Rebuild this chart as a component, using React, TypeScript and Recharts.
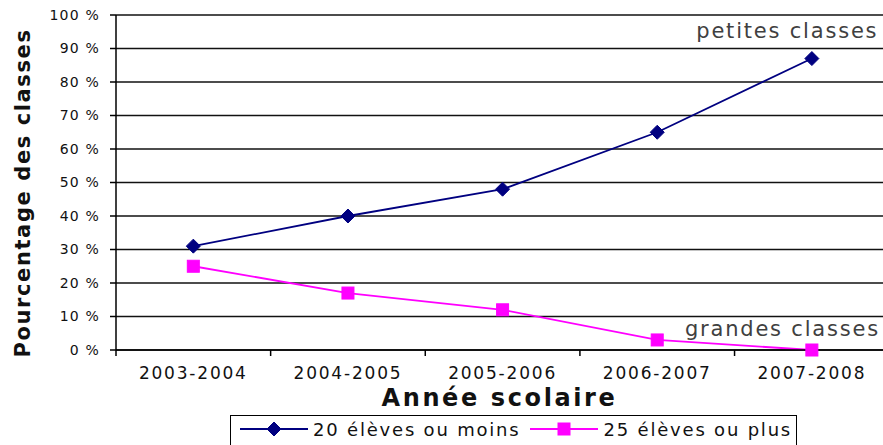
import React from "react";
import {
  LineChart,
  Line,
  XAxis,
  YAxis,
  CartesianGrid,
  ReferenceDot,
  Label,
} from "recharts";

// données
const categories = ["2003-2004", "2004-2005", "2005-2006", "2006-2007", "2007-2008"];
const petites = [31, 40, 48, 65, 87];
const grandes = [25, 17, 12, 3, 0];
const yTicks = [0, 10, 20, 30, 40, 50, 60, 70, 80, 90, 100];

const series = [
  { key: "petites", name: "20 élèves ou moins", color: "#000080", marker: "diamond" },
  { key: "grandes", name: "25 élèves ou plus", color: "#ff00ff", marker: "square" },
];

const data = categories.map((c, i) => ({ idx: i, label: c, petites: petites[i], grandes: grandes[i] }));

const W = 883;
const H = 445;
const LEFT = 116;
const FONT = "'DejaVu Sans', Verdana, sans-serif";

function Diamond({ cx, cy, color }: any) {
  const r = 7;
  return (
    <path
      d={`M${cx},${cy - r} L${cx + r},${cy} L${cx},${cy + r} L${cx - r},${cy} Z`}
      fill={color}
      stroke={color}
    />
  );
}

function Square({ cx, cy, color }: any) {
  const s = 12;
  return <rect x={cx - s / 2} y={cy - s / 2} width={s} height={s} fill={color} stroke={color} />;
}

function marker(type: string, color: string) {
  return (props: any) => {
    const { cx, cy, index } = props;
    if (cx == null || cy == null) return <g key={index} />;
    return type === "diamond" ? (
      <Diamond key={index} cx={cx} cy={cy} color={color} />
    ) : (
      <Square key={index} cx={cx} cy={cy} color={color} />
    );
  };
}

function XTick({ x, y, payload }: any) {
  const half = (x - LEFT) / (2 * payload.value + 1);
  return (
    <g>
      <line x1={x - half} x2={x - half} y1={y} y2={y + 6} stroke="#000" strokeWidth={1.5} />
      <text
        x={x}
        y={y + 29}
        textAnchor="middle"
        fill="#111"
        fontSize={17}
        letterSpacing={1.8}
        fontFamily={FONT}
      >
        {categories[payload.value]}
      </text>
    </g>
  );
}

function Annotation(text: string) {
  return (p: any) => (
    <text
      x={p.cx}
      y={p.cy}
      textAnchor="end"
      fill="#404040"
      fontSize={21}
      letterSpacing={1.8}
      fontFamily={FONT}
    >
      {text}
    </text>
  );
}

export default function App() {
  return (
    <div style={{ position: "absolute", left: 0, top: 0, width: W, height: H, overflow: "hidden", background: "#fff" }}>
      <LineChart width={W} height={H} data={data} margin={{ top: 15, right: 0, left: 0, bottom: 0 }}>
        <CartesianGrid vertical={false} stroke="#111" strokeWidth={1.5} />
        <XAxis
          dataKey="idx"
          type="number"
          domain={[-0.5, 4.46]}
          allowDataOverflow
          ticks={[0, 1, 2, 3, 4]}
          tick={<XTick />}
          tickLine={false}
          tickSize={0}
          tickMargin={0}
          height={95}
          axisLine={{ stroke: "#000", strokeWidth: 1.5 }}
        >
          <Label
            value="Année scolaire"
            position="insideTop"
            offset={39}
            fill="#111"
            fontSize={24}
            fontWeight="bold"
            letterSpacing={2.6}
            fontFamily={FONT}
          />
        </XAxis>
        <YAxis
          type="number"
          domain={[0, 100]}
          ticks={yTicks}
          width={LEFT}
          tickSize={6}
          tickMargin={10}
          tickFormatter={(v) => `${v} %`}
          tick={{ fill: "#111", fontSize: 14, letterSpacing: 1.2, fontFamily: FONT }}
          tickLine={{ stroke: "#000", strokeWidth: 1.5 }}
          axisLine={{ stroke: "#000", strokeWidth: 1.5 }}
        >
          <Label
            content={() => (
              <text
                x={30}
                y={193}
                transform="rotate(-90 30 193)"
                textAnchor="middle"
                fill="#111"
                fontSize={21}
                fontWeight="bold"
                letterSpacing={1.6}
                fontFamily={FONT}
              >
                Pourcentage des classes
              </text>
            )}
          />
        </YAxis>
        {series.map((s) => (
          <Line
            key={s.key}
            dataKey={s.key}
            name={s.name}
            stroke={s.color}
            strokeWidth={1.8}
            dot={marker(s.marker, s.color)}
            activeDot={false}
            isAnimationActive={false}
          />
        ))}
        <ReferenceDot x={4.43} y={93} r={0} shape={Annotation("petites classes")} />
        <ReferenceDot x={4.44} y={4.2} r={0} shape={Annotation("grandes classes")} />
      </LineChart>
      <div
        style={{
          position: "absolute",
          left: 230,
          top: 415,
          width: 567,
          height: 40,
          boxSizing: "border-box",
          border: "1.5px solid #000",
          display: "flex",
          alignItems: "center",
          paddingLeft: 9,
          fontFamily: FONT,
          fontSize: 18,
          letterSpacing: 1.8,
          color: "#111",
          whiteSpace: "nowrap",
        }}
      >
        {series.map((s) => (
          <div key={s.key} style={{ display: "flex", alignItems: "center", marginRight: 10, marginTop: -12, flexShrink: 0 }}>
            <svg width={68} height={16} style={{ marginRight: 5 }}>
              <line x1={0} x2={68} y1={8} y2={8} stroke={s.color} strokeWidth={1.8} />
              {s.marker === "diamond" ? <Diamond cx={34} cy={8} color={s.color} /> : <Square cx={34} cy={8} color={s.color} />}
            </svg>
            <span>{s.name}</span>
          </div>
        ))}
      </div>
    </div>
  );
}
